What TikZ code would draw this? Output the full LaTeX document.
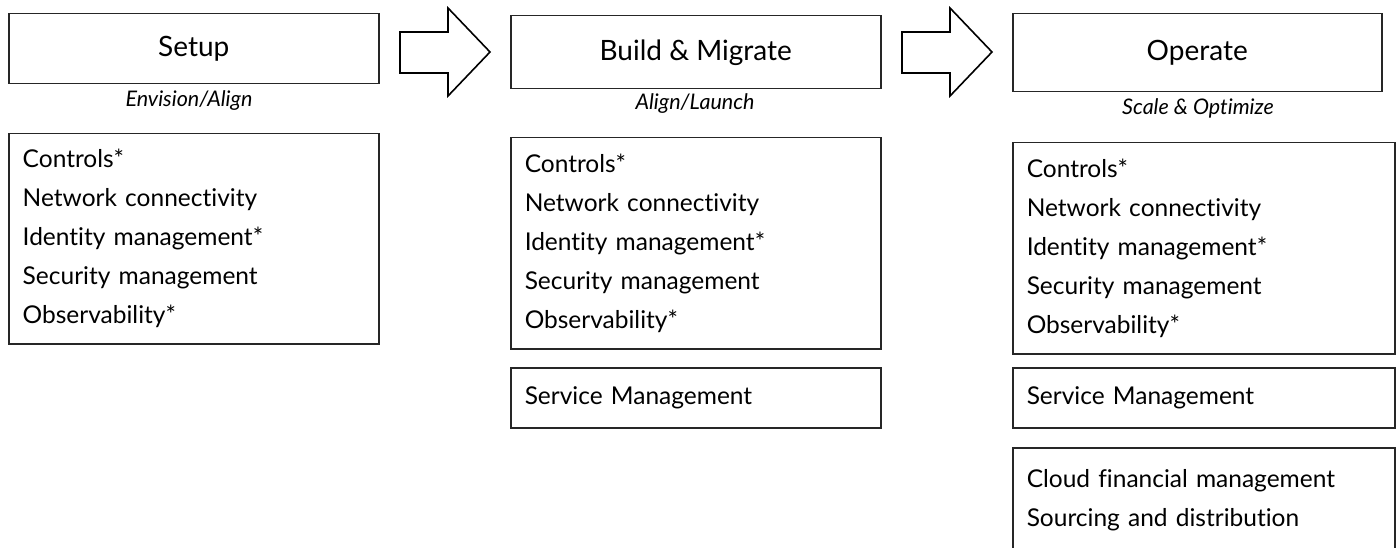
\documentclass[tikz,border=0pt]{standalone}
\usepackage{fontspec}
\setmainfont{Lato}[Ligatures=NoCommon]
\tikzset{
	phase/.style={draw=black!85, line width=1.5pt, anchor=north west, inner sep=0pt,
		minimum width=370pt, minimum height=72pt, font=\fontsize{28}{33}\selectfont},
	phasenote/.style={font=\fontsize{21.5}{25}\itshape},
	listbox/.style={draw=black!85, line width=1.5pt, anchor=north west, inner xsep=14pt,
		text width=342pt, align=left, font=\fontsize{24.5}{39}\selectfont},
	blockarrow/.style={draw=black, line width=1.6pt, line join=miter, fill=white}
}
\begin{document}
\begin{tikzpicture}[x=1pt, y=-1pt]
	\useasboundingbox (0,0) rectangle (1398,548);
	\clip (0,0) rectangle (1398,548);
	% phases
	\node[phase, minimum height=70pt] (setup) at (8,13) {Setup};
	\node[phase, minimum height=73pt] (build) at (510,15) {Build \& Migrate};
	\node[phase, minimum width=369pt, minimum height=78pt] (operate) at (1012,13) {Operate};
	\node[phasenote] (setupsub) at (189,101) {Envision/Align};
	\node[phasenote] (buildsub) at (695,104) {Align/Launch};
	\node[phasenote] (operatesub) at (1198,108) {Scale \& Optimize};
	% arrows between phases
	\path (400,32) coordinate (a1) (902,32) coordinate (a2);
	\foreach \a in {a1,a2}
		\draw[blockarrow] (\a) -- ++(48,0) -- ++(0,-24) -- ++(42,44) -- ++(-42,44) -- ++(0,-23) -- ++(-48,0) -- cycle;
	% capabilities
	\node[listbox, minimum height=210pt] (setuplist) at (8,133)
		{Controls*\\Network connectivity\\Identity management*\\Security management\\Observability*};
	\node[listbox, minimum height=211pt] (buildlist) at (510,137)
		{Controls*\\Network connectivity\\Identity management*\\Security management\\Observability*};
	\node[listbox, minimum height=60pt] (buildsvc) at (510,367) {Service Management};
	\node[listbox, text width=354pt, minimum height=211pt] (operatelist) at (1012,142)
		{Controls*\\Network connectivity\\Identity management*\\Security management\\Observability*};
	\node[listbox, text width=354pt, minimum height=60pt] (operatesvc) at (1012,367) {Service Management};
	\node[listbox, text width=354pt, minimum height=104pt] (operatecost) at (1012,447)
		{Cloud financial management\\Sourcing and distribution};
\end{tikzpicture}
\end{document}
